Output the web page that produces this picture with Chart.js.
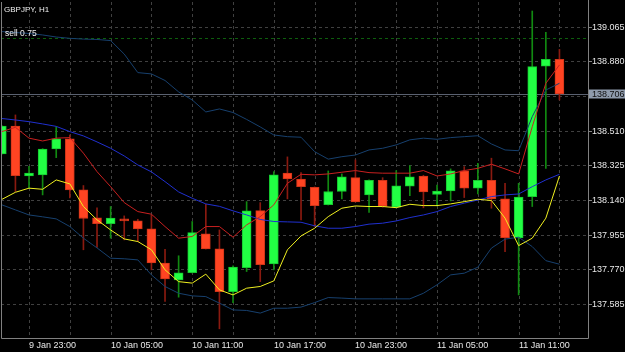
<!DOCTYPE html>
<html><head><meta charset="utf-8">
<script src="https://cdn.jsdelivr.net/npm/chart.js@4/dist/chart.umd.min.js"></script>
<style>html,body{margin:0;padding:0;background:#000;}canvas{display:block;}</style>
</head><body>
<canvas id="c" width="625" height="352"></canvas>
<script>
const symbolTitle = 'GBPJPY, H1';
const orderLabel = 'sell 0.75';
const orderPrice = 139.003;
const currentPrice = 138.706;

const barTimes = ['9 Jan 21:00','9 Jan 22:00','9 Jan 23:00',
 '10 Jan 00:00','10 Jan 01:00','10 Jan 02:00','10 Jan 03:00','10 Jan 04:00','10 Jan 05:00','10 Jan 06:00','10 Jan 07:00',
 '10 Jan 08:00','10 Jan 09:00','10 Jan 10:00','10 Jan 11:00','10 Jan 12:00','10 Jan 13:00','10 Jan 14:00','10 Jan 15:00',
 '10 Jan 16:00','10 Jan 17:00','10 Jan 18:00','10 Jan 19:00','10 Jan 20:00','10 Jan 21:00','10 Jan 22:00','10 Jan 23:00',
 '11 Jan 00:00','11 Jan 01:00','11 Jan 02:00','11 Jan 03:00','11 Jan 04:00','11 Jan 05:00','11 Jan 06:00','11 Jan 07:00',
 '11 Jan 08:00','11 Jan 09:00','11 Jan 10:00','11 Jan 11:00','11 Jan 12:00','11 Jan 13:00','11 Jan 14:00'];

const open  = [138.386,138.535,138.268,138.274,138.412,138.466,138.194,138.044,138.014,138.039,138.028,137.986,137.803,137.713,137.752,137.959,137.879,137.651,137.779,138.083,137.799,138.283,138.251,138.208,138.115,138.185,138.259,138.167,138.245,138.101,138.213,138.268,138.169,138.188,138.295,138.203,138.245,138.146,137.938,138.158,138.855,138.891];
const high  = [138.537,138.594,138.319,138.414,138.531,138.487,138.217,138.098,138.105,138.055,138.037,138.058,137.877,137.842,138.025,138.117,137.980,137.788,138.131,138.126,138.291,138.370,138.286,138.210,138.295,138.279,138.354,138.247,138.259,138.297,138.323,138.272,138.219,138.306,138.318,138.336,138.363,138.229,138.229,139.149,139.035,138.944];
const low   = [138.384,138.185,138.204,138.167,138.366,138.151,137.874,137.886,137.936,137.927,137.918,137.767,137.598,137.621,137.750,137.878,137.452,137.591,137.758,137.704,137.767,138.146,138.034,137.998,138.113,138.146,138.129,138.073,138.101,138.098,138.163,138.098,138.108,138.135,138.153,138.172,138.096,137.864,137.633,138.105,138.309,138.674];
const close = [138.535,138.270,138.284,138.412,138.466,138.194,138.041,138.014,138.043,138.028,137.986,137.804,137.719,137.751,137.966,137.879,137.651,137.781,138.082,137.794,138.274,138.252,138.211,138.110,138.185,138.263,138.130,138.245,138.105,138.215,138.263,138.183,138.188,138.295,138.203,138.245,138.146,137.939,138.156,138.852,138.891,138.706];

const bbUpper  = [139.039,139.034,139.029,139.021,139.010,139.003,138.999,138.997,138.991,138.919,138.820,138.813,138.778,138.717,138.674,138.610,138.626,138.607,138.570,138.530,138.487,138.478,138.475,138.398,138.358,138.371,138.380,138.407,138.416,138.434,138.461,138.470,138.464,138.473,138.478,138.483,138.439,138.407,138.403,138.585,138.727,138.763];
const bbMiddle = [138.575,138.567,138.558,138.546,138.533,138.505,138.482,138.450,138.416,138.375,138.327,138.290,138.238,138.183,138.149,138.119,138.106,138.082,138.060,138.036,138.025,138.023,138.021,138.002,137.989,137.989,137.998,138.011,138.016,138.028,138.046,138.060,138.078,138.105,138.123,138.140,138.158,138.167,138.172,138.211,138.247,138.277];
const bbLower  = [138.114,138.087,138.060,138.050,138.039,137.998,137.936,137.884,137.829,137.826,137.820,137.740,137.678,137.642,137.628,137.624,137.589,137.553,137.550,137.536,137.562,137.562,137.568,137.592,137.619,137.616,137.612,137.612,137.612,137.612,137.612,137.642,137.687,137.740,137.749,137.781,137.883,137.931,137.941,137.891,137.816,137.797];
const maRed    = [138.505,138.528,138.470,138.455,138.470,138.473,138.390,138.291,138.211,138.126,138.078,138.064,137.998,137.936,137.945,137.998,137.998,137.941,138.007,138.051,138.114,138.229,138.277,138.274,138.279,138.288,138.297,138.286,138.283,138.283,138.283,138.297,138.268,138.279,138.297,138.309,138.331,138.306,138.279,138.531,138.763,138.861];
const maYellow = [138.143,138.181,138.203,138.197,138.247,138.226,138.105,138.034,137.980,137.932,137.918,137.874,137.767,137.704,137.696,137.744,137.660,137.633,137.669,137.678,137.708,137.874,137.948,137.989,138.051,138.096,138.108,138.105,138.105,138.099,138.117,138.110,138.110,138.119,138.131,138.144,138.137,138.043,137.896,137.936,138.043,138.268];

const priceTicks = [139.065,138.880,138.695,138.510,138.325,138.140,137.955,137.770,137.585];

const BULL = '#22ff44', BEAR = '#ff4422';
const BULL_WICK = '#118a11', BEAR_WICK = '#8a1a10';
const BULL_EDGE = '#16c830', BEAR_EDGE = '#d03418';

const idx = barTimes.map((_, i) => i);
const isBull = i => close[i] >= open[i];
const hourOf = t => parseInt(t.split(' ')[2], 10);

const wickData = idx.map(i => ({x: i, y: [low[i], high[i]]}));
const bodyData = idx.map(i => ({x: i, y: [open[i], close[i]]}));
const lineData = arr => arr.map((v, i) => ({x: i, y: v}));

const lineDs = (arr, color, order) => ({
  type: 'line', data: lineData(arr), borderColor: color, borderWidth: 1,
  pointRadius: 0, tension: 0, fill: false, order: order
});

const mt4Plugin = {
  id: 'mt4',
  beforeDraw(chart) {
    const ctx = chart.ctx;
    ctx.save(); ctx.fillStyle = '#000'; ctx.fillRect(0, 0, chart.width, chart.height); ctx.restore();
  },
  beforeDatasetsDraw(chart) {
    const {ctx, chartArea: a, scales: {x, y}} = chart;
    ctx.save();
    ctx.lineWidth = 1;
    ctx.strokeStyle = '#404040';
    ctx.setLineDash([3, 3]);
    priceTicks.forEach(p => {
      const py = Math.round(y.getPixelForValue(p)) + 0.5;
      ctx.beginPath(); ctx.moveTo(a.left, py); ctx.lineTo(a.right, py); ctx.stroke();
    });
    barTimes.forEach((t, i) => {
      if (hourOf(t) % 3 === 2) {
        const px = Math.round(x.getPixelForValue(i)) + 0.5;
        ctx.beginPath(); ctx.moveTo(px, a.top); ctx.lineTo(px, a.bottom); ctx.stroke();
      }
    });
    ctx.strokeStyle = '#0d5e0d';
    const oy = Math.round(y.getPixelForValue(orderPrice)) + 0.5;
    ctx.beginPath(); ctx.moveTo(a.left, oy); ctx.lineTo(a.right, oy); ctx.stroke();
    ctx.setLineDash([]);
    ctx.strokeStyle = '#5a6170';
    const cy = Math.round(y.getPixelForValue(currentPrice)) + 0.5;
    ctx.beginPath(); ctx.moveTo(a.left, cy); ctx.lineTo(a.right, cy); ctx.stroke();
    ctx.restore();
  },
  afterDraw(chart) {
    const {ctx, chartArea: a, scales: {x, y}} = chart;
    ctx.save();
    ctx.strokeStyle = '#808080'; ctx.lineWidth = 1;
    ctx.beginPath();
    ctx.moveTo(a.left + 0.5, a.top); ctx.lineTo(a.left + 0.5, a.bottom + 0.5);
    ctx.lineTo(a.right + 0.5, a.bottom + 0.5); ctx.lineTo(a.right + 0.5, 0);
    ctx.stroke();
    ctx.font = '9px "Liberation Sans", Arial, sans-serif';
    ctx.textBaseline = 'middle'; ctx.textAlign = 'left';
    const cy = y.getPixelForValue(currentPrice);
    priceTicks.forEach(p => {
      const py = y.getPixelForValue(p);
      if (Math.abs(py - cy) < 9) return;
      ctx.strokeStyle = '#808080';
      ctx.beginPath(); ctx.moveTo(a.right + 1, Math.round(py) + 0.5); ctx.lineTo(a.right + 4, Math.round(py) + 0.5); ctx.stroke();
      ctx.fillStyle = '#e8e8e8';
      ctx.fillText(p.toFixed(3), a.right + 4, py + 0.5);
    });
    ctx.fillStyle = '#8e9aab';
    ctx.fillRect(a.right + 1, Math.round(cy) - 4.5, chart.width - a.right - 1, 9);
    ctx.fillStyle = '#101010';
    ctx.fillText(currentPrice.toFixed(3), a.right + 4, cy + 0.5);
    ctx.fillStyle = '#e8e8e8';
    ctx.textBaseline = 'alphabetic';
    barTimes.forEach((t, i) => {
      if (hourOf(t) % 6 === 5) {
        const px = Math.round(x.getPixelForValue(i));
        ctx.fillText(t, px, a.bottom + 10);
      }
    });
    ctx.font = '8px "Liberation Sans", Arial, sans-serif';
    ctx.fillStyle = '#f0f0f0';
    ctx.fillText(symbolTitle, 4, 12);
    ctx.font = '8.5px "Liberation Sans", Arial, sans-serif';
    ctx.fillText(orderLabel, 5, 36);
    ctx.restore();
  }
};

new Chart(document.getElementById('c'), {
  type: 'bar',
  data: {
    datasets: [
      lineDs(maYellow, '#f0f020', 1),
      lineDs(maRed, '#c82020', 1),
      lineDs(bbMiddle, '#2030d0', 1),
      lineDs(bbUpper, '#17406e', 1),
      lineDs(bbLower, '#17406e', 1),
      {
        type: 'bar', data: bodyData, order: 2,
        backgroundColor: idx.map(i => isBull(i) ? BULL : BEAR),
        borderColor: idx.map(i => isBull(i) ? BULL_EDGE : BEAR_EDGE),
        borderWidth: 1, borderSkipped: false, barThickness: 9, grouped: false, minBarLength: 2
      },
      {
        type: 'bar', data: wickData, order: 3,
        backgroundColor: idx.map(i => isBull(i) ? BULL_WICK : BEAR_WICK),
        borderWidth: 0, barThickness: 1, grouped: false
      }
    ]
  },
  options: {
    responsive: false, animation: false, devicePixelRatio: 1,
    layout: {padding: {left: 1, right: 37, top: 2, bottom: 14}},
    plugins: {legend: {display: false}, tooltip: {enabled: false}},
    scales: {
      x: {type: 'linear', min: -0.06, max: 43.1, offset: false, display: false},
      y: {type: 'linear', min: 137.403, max: 139.197, display: false}
    }
  },
  plugins: [mt4Plugin]
});
</script>
</body></html>
